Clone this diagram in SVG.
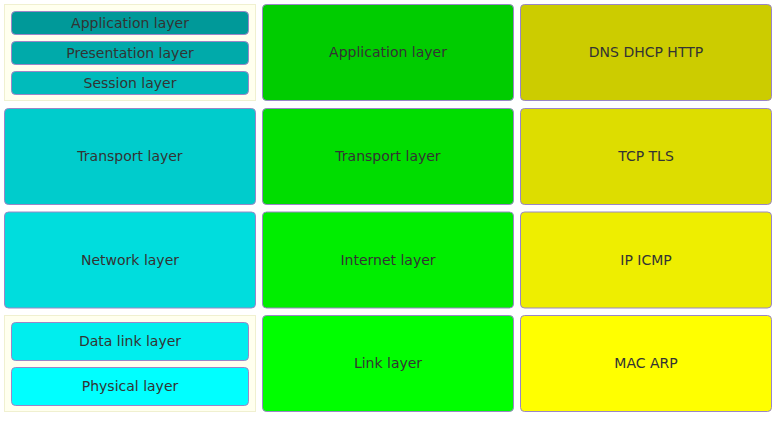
<svg xmlns="http://www.w3.org/2000/svg" width="784" height="421" viewBox="0 0 784 421">
<style>
.c{fill:#ffffee;stroke:#f0f0d0;stroke-width:1}
.b{stroke:#9a86c8;stroke-width:1}
text{font-family:"DejaVu Sans",sans-serif;font-size:14px;fill:#333;text-anchor:middle;dominant-baseline:central}
</style>
<rect width="784" height="421" fill="#ffffff"/>
<g id="osi-upper">
<rect class="c" x="4.5" y="4.5" width="251" height="96"/>
<g id="osi-app"><rect class="b" x="11.5" y="11.5" width="237" height="23" rx="4" fill="#009999"/><text x="130" y="22.5">Application layer</text></g>
<g id="osi-pres"><rect class="b" x="11.5" y="41.5" width="237" height="23" rx="4" fill="#00aaaa"/><text x="130" y="52.5">Presentation layer</text></g>
<g id="osi-sess"><rect class="b" x="11.5" y="71.5" width="237" height="23" rx="4" fill="#00bbbb"/><text x="130" y="82.5">Session layer</text></g>
</g>
<g id="osi-trans"><rect class="b" x="4.5" y="108.5" width="251" height="96" rx="4" fill="#00cccc"/><text x="130" y="156">Transport layer</text></g>
<g id="osi-net"><rect class="b" x="4.5" y="212" width="251" height="96" rx="4" fill="#00dddd"/><text x="130" y="259.5">Network layer</text></g>
<g id="osi-lower">
<rect class="c" x="4.5" y="315.5" width="251" height="96"/>
<g id="osi-dl"><rect class="b" x="11.5" y="322.5" width="237" height="38" rx="4" fill="#00eeee"/><text x="130" y="341">Data link layer</text></g>
<g id="osi-phys"><rect class="b" x="11.5" y="367.5" width="237" height="38" rx="4" fill="#00ffff"/><text x="130" y="386">Physical layer</text></g>
</g>
<g id="tcp-app"><rect class="b" x="262.5" y="4.5" width="251" height="96" rx="4" fill="#00cc00"/><text x="388" y="52">Application layer</text></g>
<g id="tcp-trans"><rect class="b" x="262.5" y="108.5" width="251" height="96" rx="4" fill="#00dd00"/><text x="388" y="156">Transport layer</text></g>
<g id="tcp-inet"><rect class="b" x="262.5" y="212" width="251" height="96" rx="4" fill="#00ee00"/><text x="388" y="259.5">Internet layer</text></g>
<g id="tcp-link"><rect class="b" x="262.5" y="315.5" width="251" height="96" rx="4" fill="#00ff00"/><text x="388" y="363">Link layer</text></g>
<g id="p-app"><rect class="b" x="520.5" y="4.5" width="251" height="96" rx="4" fill="#cccc00"/><text x="646" y="52">DNS DHCP HTTP</text></g>
<g id="p-trans"><rect class="b" x="520.5" y="108.5" width="251" height="96" rx="4" fill="#dddd00"/><text x="646" y="156">TCP TLS</text></g>
<g id="p-inet"><rect class="b" x="520.5" y="212" width="251" height="96" rx="4" fill="#eeee00"/><text x="646" y="259.5">IP ICMP</text></g>
<g id="p-link"><rect class="b" x="520.5" y="315.5" width="251" height="96" rx="4" fill="#ffff00"/><text x="646" y="363">MAC ARP</text></g>
<g id="connectors"/>
</svg>
